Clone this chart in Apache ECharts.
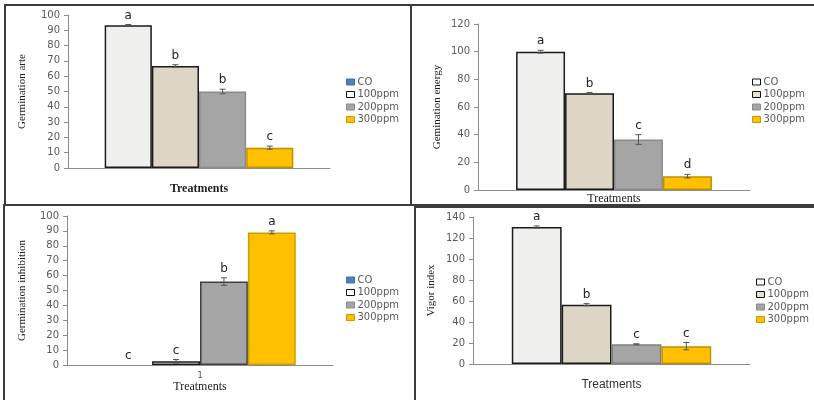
<!DOCTYPE html>
<html>
<head>
<meta charset="utf-8">
<title>Germination charts</title>
<script src="https://cdn.jsdelivr.net/npm/echarts@6/dist/echarts.min.js"></script>
<style>
  html, body { margin: 0; padding: 0; background: #fff; }
  #main { width: 814px; height: 400px; }
</style>
</head>
<body>
<div id="main"></div>
<script type="text/javascript">
// data
var treatments = ['CO', '100ppm', '200ppm', '300ppm'];

var germRate = [93.3, 66.7, 50.0, 13.3];
var germRateErr = [0.5, 0.8, 1.5, 1.0];
var germRateLetters = ['a', 'b', 'b', 'c'];

var germEnergy = [100, 70, 36.5, 10];
var germEnergyErr = [1.0, 0.5, 3.5, 1.3];
var germEnergyLetters = ['a', 'b', 'c', 'd'];

var germInhib = [0, 2.5, 56, 89];
var germInhibErr = [0, 1.2, 2.5, 1.0];
var germInhibLetters = ['c', 'c', 'b', 'a'];

var vigor = [130.5, 56.5, 18.8, 17];
var vigorErr = [1.0, 1.0, 0.5, 3.5];
var vigorLetters = ['a', 'b', 'c', 'c'];

var GAP = 0.28;

var panels = [
  { values: germRate, errs: germRateErr, letters: germRateLetters, yName: 'Germination arte', max: 100, interval: 10,
    grid: { left: 68, top: 15, width: 262, height: 153 }, nameGap: 40, xName: 'Treatments', xGap: 15,
    xFont: { fontFamily: 'Liberation Serif', fontWeight: 'bold', fontSize: 12, color: '#222' }, showCat: false,
    legend: { left: 346, top: 77 },
    legendColors: [['#4f81bd', '#3a6ea5'], ['#ffffff', '#111'], ['#a5a5a5', '#8a8a8a'], ['#ffc000', '#c99a00']],
    barColors: [['#efefee', '#1a1a1a'], ['#ddd5c6', '#1a1a1a'], ['#a5a5a5', '#8c8c8c'], ['#ffc000', '#c09000']] },
  { values: germEnergy, errs: germEnergyErr, letters: germEnergyLetters, yName: 'Gemination energy', max: 120, interval: 20,
    grid: { left: 478, top: 24, width: 272, height: 166 }, nameGap: 35, xName: 'Treatments', xGap: 3,
    xFont: { fontFamily: 'Liberation Serif', fontSize: 12, color: '#222' }, showCat: false,
    legend: { left: 752, top: 77 },
    legendColors: [['#ffffff', '#111'], ['#e6dfd2', '#111'], ['#a5a5a5', '#8a8a8a'], ['#ffc000', '#c99a00']],
    barColors: [['#efefee', '#1a1a1a'], ['#ddd5c6', '#1a1a1a'], ['#a5a5a5', '#8c8c8c'], ['#ffc000', '#c09000']] },
  { values: germInhib, errs: germInhibErr, letters: germInhibLetters, yName: 'Germination inhibition', max: 100, interval: 10,
    grid: { left: 67, top: 216, width: 266, height: 149 }, nameGap: 39, xName: 'Treatments', xGap: 16,
    xFont: { fontFamily: 'Liberation Serif', fontSize: 12, color: '#222' }, showCat: true,
    legend: { left: 346, top: 275 },
    legendColors: [['#4f81bd', '#3a6ea5'], ['#ffffff', '#111'], ['#a5a5a5', '#8a8a8a'], ['#ffc000', '#c99a00']],
    barColors: [['#ffffff', '#1a1a1a'], ['#ffffff', '#1a1a1a'], ['#a5a5a5', '#404040'], ['#ffc000', '#c9a000']] },
  { values: vigor, errs: vigorErr, letters: vigorLetters, yName: 'Vigor index', max: 140, interval: 20,
    grid: { left: 473, top: 217, width: 277, height: 147 }, nameGap: 36, xName: 'Treatments', xGap: 15,
    xFont: { fontFamily: 'Liberation Sans', fontSize: 12, color: '#333' }, showCat: false,
    legend: { left: 756, top: 277 },
    legendColors: [['#ffffff', '#111'], ['#e6dfd2', '#111'], ['#a5a5a5', '#8a8a8a'], ['#ffc000', '#c99a00']],
    barColors: [['#efefee', '#1a1a1a'], ['#ddd5c6', '#1a1a1a'], ['#a5a5a5', '#7f7f7f'], ['#ffc000', '#bf9000']] }
];

function errorBars(params, api) {
  var idx = api.value(3);
  var base = api.coord([api.value(0), 0]);
  var bandW = api.size([1, 0])[0];
  var barW = bandW * (1 - GAP) / 4;
  var cx = base[0] + (idx - 1.5) * barW;
  var v = api.value(1), e = api.value(2);
  var hi = api.coord([api.value(0), v + e])[1];
  var lo = api.coord([api.value(0), v - e])[1];
  var style = { stroke: '#555', lineWidth: 1 };
  var children = [];
  if (e > 0) {
    children.push({ type: 'line', shape: { x1: cx, y1: hi, x2: cx, y2: lo }, style: style });
    children.push({ type: 'line', shape: { x1: cx - 3, y1: hi, x2: cx + 3, y2: hi }, style: style });
    children.push({ type: 'line', shape: { x1: cx - 3, y1: lo, x2: cx + 3, y2: lo }, style: style });
  }
  children.push({
    type: 'text',
    style: { x: cx, y: hi - 3, text: api.value(4), align: 'center', verticalAlign: 'bottom',
      fill: '#222', font: '12px "DejaVu Sans"' }
  });
  return { type: 'group', children: children };
}

var grids = [], xAxes = [], yAxes = [], legends = [], series = [];
panels.forEach(function (p, k) {
  grids.push(p.grid);
  xAxes.push({
    type: 'category', gridIndex: k, data: ['1'],
    name: p.xName, nameLocation: 'middle', nameGap: p.xGap + (p.showCat ? 0 : 0), nameTextStyle: p.xFont,
    axisLine: { lineStyle: { color: '#8c8c8c' } }, axisTick: { show: false },
    axisLabel: { show: p.showCat, color: '#595959', fontSize: 9, fontFamily: 'DejaVu Sans', margin: 6 }
  });
  yAxes.push({
    type: 'value', gridIndex: k, min: 0, max: p.max, interval: p.interval,
    name: p.yName, nameLocation: 'middle', nameGap: p.nameGap,
    nameTextStyle: { fontFamily: 'Liberation Serif', fontSize: 11, color: '#222' },
    axisLine: { show: true, lineStyle: { color: '#8c8c8c' } },
    axisTick: { show: true, length: 4, lineStyle: { color: '#8c8c8c' } },
    axisLabel: { color: '#595959', fontSize: 10, fontFamily: 'DejaVu Sans', margin: 8 },
    splitLine: { show: false }
  });
  legends.push({
    orient: 'vertical', left: p.legend.left, top: p.legend.top, padding: 0,
    itemWidth: 8, itemHeight: 6, itemGap: 2.5, icon: 'rect', selectedMode: false,
    textStyle: { fontSize: 10, color: '#595959', fontFamily: 'DejaVu Sans', padding: [0, 0, 0, -2] },
    data: treatments.map(function (t, i) {
      return { name: t, itemStyle: { color: p.legendColors[i][0], borderColor: p.legendColors[i][1], borderWidth: 1 } };
    })
  });
  treatments.forEach(function (t, i) {
    series.push({
      name: t, type: 'bar', xAxisIndex: k, yAxisIndex: k,
      barGap: 0, barCategoryGap: (GAP * 100) + '%',
      itemStyle: { color: p.barColors[i][0], borderColor: p.barColors[i][1], borderWidth: p.values[i] > 0 ? 1.5 : 0 },
      data: [p.values[i]]
    });
  });
  series.push({
    type: 'custom', xAxisIndex: k, yAxisIndex: k, z: 10,
    renderItem: errorBars,
    encode: { x: 0, y: 1 },
    data: treatments.map(function (t, i) { return [0, p.values[i], p.errs[i], i, p.letters[i]]; })
  });
});

var frame = { fill: 'none', stroke: '#3c3c3c', lineWidth: 2 };
var option = {
  animation: false,
  backgroundColor: '#fff',
  grid: grids,
  xAxis: xAxes,
  yAxis: yAxes,
  legend: legends,
  series: series,
  graphic: [
    { type: 'rect', shape: { x: 5, y: 5, width: 406, height: 200 }, style: frame, silent: true },
    { type: 'rect', shape: { x: 411, y: 5, width: 404, height: 200 }, style: frame, silent: true },
    { type: 'rect', shape: { x: 4, y: 205, width: 411, height: 200 }, style: frame, silent: true },
    { type: 'rect', shape: { x: 415, y: 207, width: 404, height: 200 }, style: frame, silent: true }
  ]
};

var myChart = echarts.init(document.getElementById('main'));
myChart.setOption(option);
</script>
</body>
</html>
